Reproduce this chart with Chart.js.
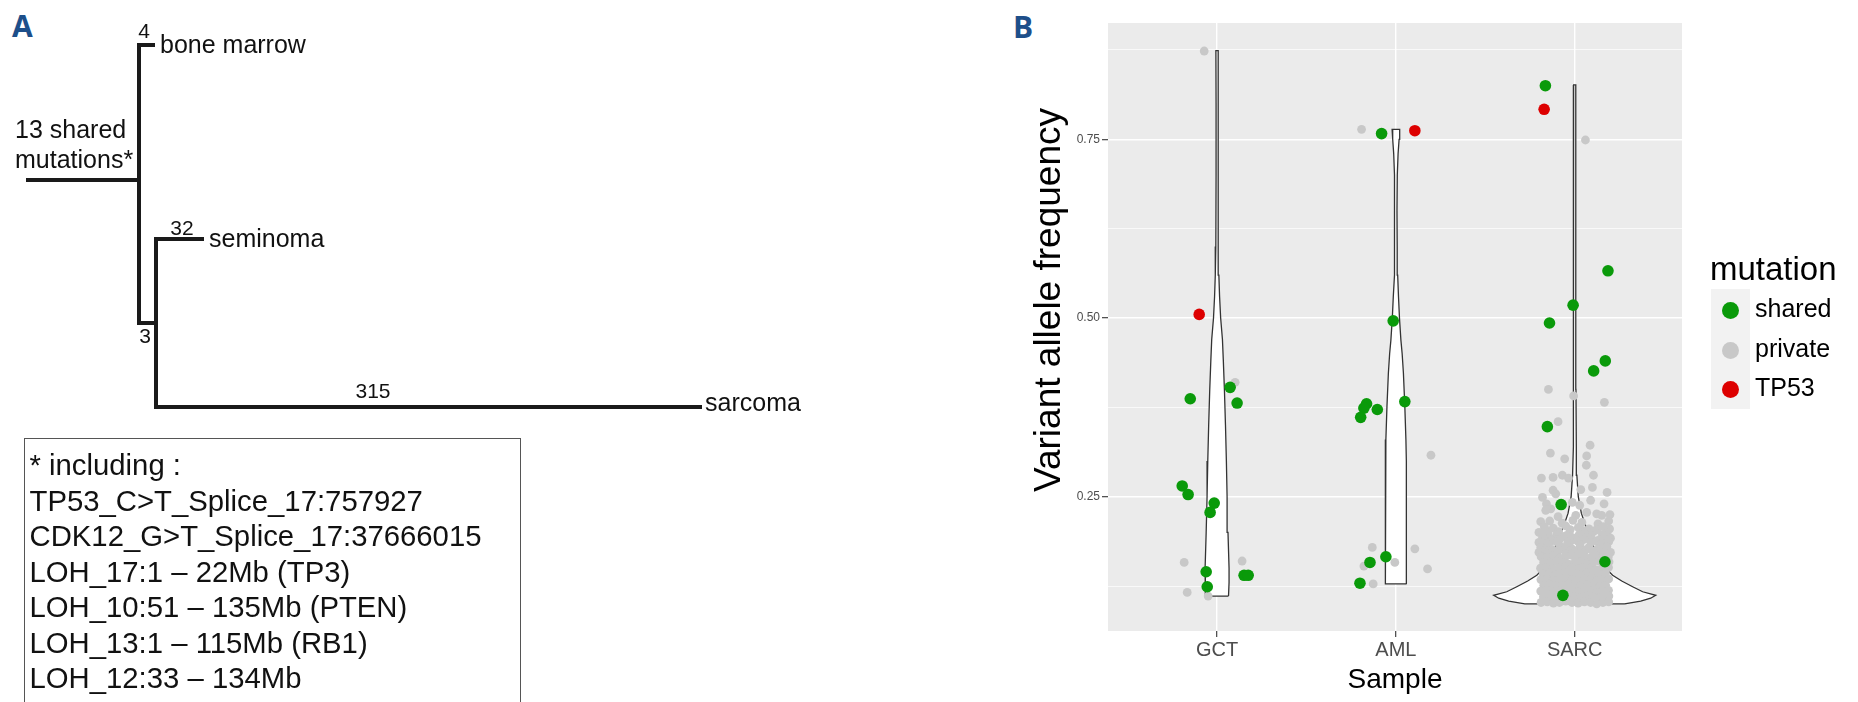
<!DOCTYPE html>
<html lang="en">
<head>
<meta charset="UTF-8">
<title>Clonal tree and variant allele frequency</title>
<script src="https://cdn.jsdelivr.net/npm/chart.js"></script>
<style>
  html, body { margin: 0; padding: 0; background: #fff; }
  body { width: 1858px; height: 702px; position: relative; overflow: hidden; font-family: "Liberation Sans", Arial, sans-serif; }
  .letter { position: absolute; font-family: "Open Sans", "Liberation Sans", sans-serif; font-weight: 700; font-size: 30px; line-height: 30px; color: #1d4f8a; }
  #treeChart { position: absolute; left: 0; top: 0; }
  #vafChart { position: absolute; left: 1000px; top: 0; }
  .note { position: absolute; left: 24px; top: 438px; width: 497px; height: 320px; box-sizing: border-box;
          border: 1.5px solid #555; padding: 8px 0 0 4.5px; font-size: 29.3px; line-height: 35.5px; color: #111; }
  .legend-title { position: absolute; left: 1710px; top: 252px; font-size: 33px; line-height: 33px; color: #000; }
  .legend-keys { position: absolute; left: 1711px; top: 289px; width: 39px; height: 120px; background: #f2f2f2; }
  .legend-dot { position: absolute; width: 17px; height: 17px; border-radius: 50%; }
  .legend-label { position: absolute; left: 1755px; font-size: 25px; line-height: 25px; color: #000; }
</style>
</head>
<body>
  <div class="letter" style="left:12px; top:11px;">A</div>
  <div class="letter" style="left:1013px; top:12px;">B</div>

  <canvas id="treeChart" width="860" height="440"></canvas>

  <div class="note">
    <div>* including :</div>
    <div>TP53_C&gt;T_Splice_17:757927</div>
    <div>CDK12_G&gt;T_Splice_17:37666015</div>
    <div>LOH_17:1 – 22Mb (TP3)</div>
    <div>LOH_10:51 – 135Mb (PTEN)</div>
    <div>LOH_13:1 – 115Mb (RB1)</div>
    <div>LOH_12:33 – 134Mb</div>
  </div>

  <canvas id="vafChart" width="858" height="702"></canvas>

  <div class="legend-title">mutation</div>
  <div class="legend-keys"></div>
  <div id="legendItems"></div>

<script>
  Chart.defaults.font.family = '"Liberation Sans", Arial, sans-serif';

  // ---- panel A: tree (layout units of the tree canvas) ----
  const nodeNames = ['root', 'split', 'bone marrow', 'inner', 'seminoma', 'sarcoma'];
  const nodeX = [26, 139, 155, 156, 204, 702];
  const nodeY = [180, 180, 45, 323, 239, 407];
  const nodeParent = [-1, 0, 1, 1, 3, 3];

  const treeLabels = [
    { text: '13 shared', x: 15, y: 138, size: 25, align: 'left' },
    { text: 'mutations*', x: 15, y: 168, size: 25, align: 'left' },
    { text: '4', x: 144, y: 38, size: 21, align: 'center' },
    { text: 'bone marrow', x: 160, y: 53, size: 25, align: 'left' },
    { text: '32', x: 182, y: 235, size: 21, align: 'center' },
    { text: 'seminoma', x: 209, y: 247, size: 25, align: 'left' },
    { text: '3', x: 145, y: 343, size: 21, align: 'center' },
    { text: '315', x: 373, y: 398, size: 21, align: 'center' },
    { text: 'sarcoma', x: 705, y: 411, size: 25, align: 'left' }
  ];

  // elbow path from parent to child
  const treeEdges = [];
  nodeParent.forEach((p, i) => {
    if (p < 0) return;
    const pts = [
      { x: nodeX[p], y: nodeY[p] },
      { x: nodeX[p], y: nodeY[i] },
      { x: nodeX[i], y: nodeY[i] }
    ].filter((pt, k, arr) => k === 0 || pt.x !== arr[k - 1].x || pt.y !== arr[k - 1].y);
    treeEdges.push({
      type: 'line',
      label: nodeNames[i],
      data: pts,
      borderColor: '#1a1a1a',
      borderWidth: 4,
      borderCapStyle: 'butt',
      borderJoinStyle: 'miter',
      pointRadius: 0,
      tension: 0,
      fill: false
    });
  });

  const treeText = {
    id: 'treeText',
    afterDatasetsDraw(chart) {
      const { ctx, scales: { x, y } } = chart;
      ctx.save();
      ctx.fillStyle = '#111';
      ctx.textBaseline = 'alphabetic';
      treeLabels.forEach(l => {
        ctx.font = l.size + 'px "Liberation Sans", Arial, sans-serif';
        ctx.textAlign = l.align;
        ctx.fillText(l.text, x.getPixelForValue(l.x), y.getPixelForValue(l.y));
      });
      ctx.restore();
    }
  };

  new Chart(document.getElementById('treeChart'), {
    type: 'scatter',
    data: { datasets: treeEdges },
    options: {
      responsive: false,
      animation: false,
      events: [],
      layout: { padding: 0 },
      plugins: { legend: { display: false }, tooltip: { enabled: false } },
      scales: {
        x: { type: 'linear', min: 0, max: 860, display: false },
        y: { type: 'linear', min: 0, max: 440, reverse: true, display: false }
      }
    },
    plugins: [treeText]
  });

  // ---- panel B: violin + jitter ----
  const samples = ['GCT', 'AML', 'SARC'];
  const samplePos = [1, 2, 3];
  const vafGrid = [0.125, 0.25, 0.375, 0.5, 0.625, 0.75, 0.875];
  const vafTicks = [0.25, 0.5, 0.75];
  const mutationTypes = ['shared', 'private', 'TP53'];
  const mutationColors = ['#0a9a0a', '#c8c8c8', '#dd0000'];

  // violin outlines: VAF level and half width (x units)
  const gctViolinY = [0.111, 0.13, 0.15, 0.2, 0.25, 0.3, 0.35, 0.4, 0.44, 0.47, 0.5, 0.53, 0.56, 0.6, 0.7, 0.8, 0.874];
  const gctViolinW = [0.064, 0.067, 0.067, 0.061, 0.056, 0.052, 0.047, 0.041, 0.035, 0.030, 0.020, 0.014, 0.010, 0.007, 0.0056, 0.0056, 0.0067];
  const amlViolinY = [0.128, 0.15, 0.2, 0.25, 0.3, 0.33, 0.376, 0.423, 0.45, 0.469, 0.5, 0.53, 0.56, 0.6, 0.65, 0.7, 0.73, 0.75, 0.764];
  const amlViolinW = [0.060, 0.060, 0.059, 0.058, 0.057, 0.056, 0.050, 0.042, 0.035, 0.028, 0.020, 0.0145, 0.010, 0.0073, 0.0061, 0.0078, 0.0123, 0.0179, 0.0212];
  const sarcViolinY = [0.100, 0.104, 0.108, 0.112, 0.117, 0.124, 0.132, 0.140, 0.150, 0.165, 0.180, 0.199, 0.213, 0.227, 0.250, 0.280, 0.320, 0.400, 0.550, 0.826];
  const sarcViolinW = [0.279, 0.369, 0.425, 0.453, 0.380, 0.324, 0.263, 0.212, 0.173, 0.134, 0.106, 0.078, 0.056, 0.037, 0.020, 0.012, 0.009, 0.007, 0.006, 0.006];

  // jittered points [x position, VAF]
  const gctShared = [[0.850, 0.387], [1.073, 0.403], [1.112, 0.381], [0.805, 0.265], [0.838, 0.253], [0.984, 0.241],
    [0.961, 0.228], [0.939, 0.145], [1.151, 0.140], [1.174, 0.140], [0.945, 0.124]];
  const gctPrivate = [[0.928, 0.8735], [1.101, 0.410], [0.816, 0.158], [1.140, 0.160], [0.833, 0.116], [0.950, 0.111]];
  const gctTP53 = [[0.900, 0.505]];

  const amlShared = [[1.920, 0.758], [1.985, 0.496], [1.836, 0.380], [1.821, 0.374], [1.896, 0.372], [1.803, 0.361],
    [2.050, 0.383], [1.944, 0.166], [1.855, 0.158], [1.799, 0.129]];
  const amlPrivate = [[1.808, 0.764], [2.196, 0.308], [1.868, 0.179], [2.106, 0.177], [1.821, 0.153], [1.994, 0.158],
    [2.177, 0.149], [1.873, 0.128]];
  const amlTP53 = [[2.106, 0.762]];

  const sarcShared = [[2.836, 0.825], [3.186, 0.566], [2.991, 0.518], [2.859, 0.493], [3.171, 0.440], [3.106, 0.426],
    [2.847, 0.348], [2.924, 0.239], [3.169, 0.159], [2.934, 0.112]];
  const sarcTP53 = [[2.829, 0.792]];
  const sarcPrivate = [
    [3.060, 0.749], [2.853, 0.400], [2.994, 0.391], [3.166, 0.382], [2.907, 0.355], [3.086, 0.322], [2.864, 0.311],
    [3.067, 0.307], [2.944, 0.303], [3.065, 0.294], [2.814, 0.276], [2.879, 0.277], [2.931, 0.280], [2.965, 0.276],
    [3.105, 0.280], [3.099, 0.263], [3.034, 0.260], [2.879, 0.259], [2.894, 0.254], [3.181, 0.256], [2.820, 0.249],
    [2.842, 0.240], [3.164, 0.240], [3.089, 0.245], [3.028, 0.238], [2.987, 0.242], [2.866, 0.233], [2.838, 0.231],
    [3.123, 0.226], [3.151, 0.224], [3.197, 0.225], [3.067, 0.228], [2.907, 0.222], [3.006, 0.224],
    [2.81, 0.215], [2.86, 0.216], [2.93, 0.213], [2.99, 0.217], [3.04, 0.214], [3.13, 0.212], [3.19, 0.216],
    [2.835, 0.204], [2.975, 0.204], [3.045, 0.203], [3.125, 0.204], [3.195, 0.205],
    [2.83, 0.208], [2.88, 0.206], [2.95, 0.209], [3.02, 0.207], [3.08, 0.205], [3.16, 0.208],
    [2.80, 0.200], [2.85, 0.199], [2.91, 0.201], [2.97, 0.198], [3.05, 0.200], [3.11, 0.202], [3.18, 0.199],
    [2.845, 0.196], [2.90, 0.197], [2.955, 0.196], [3.025, 0.197], [3.09, 0.196], [3.155, 0.197],
    [2.82, 0.193], [2.88, 0.191], [2.94, 0.194], [3.00, 0.192], [3.07, 0.193], [3.14, 0.190], [3.20, 0.192],
    [2.83, 0.189], [2.87, 0.188], [2.915, 0.190], [2.98, 0.189], [3.015, 0.188], [3.05, 0.190], [3.12, 0.188], [3.17, 0.189],
    [2.80, 0.186], [2.84, 0.184], [2.90, 0.187], [2.96, 0.185], [3.03, 0.183], [3.09, 0.186], [3.15, 0.184], [3.19, 0.187],
    [2.81, 0.179], [2.86, 0.177], [2.92, 0.180], [2.98, 0.178], [3.02, 0.176], [3.08, 0.179], [3.13, 0.177], [3.18, 0.180],
    [2.835, 0.175], [2.875, 0.176], [2.905, 0.174], [2.94, 0.176], [2.975, 0.174], [3.035, 0.175], [3.065, 0.176],
    [3.10, 0.174], [3.145, 0.176], [3.175, 0.175],
    [2.80, 0.172], [2.84, 0.171], [2.89, 0.173], [2.95, 0.170], [3.00, 0.172], [3.05, 0.171], [3.11, 0.173], [3.16, 0.170], [3.20, 0.172],
    [2.812, 0.166], [2.846, 0.165], [2.879, 0.167], [2.915, 0.164], [2.948, 0.166], [2.983, 0.168], [3.016, 0.165],
    [3.052, 0.166], [3.085, 0.164], [3.119, 0.167], [3.154, 0.165], [3.188, 0.166],
    [2.826, 0.158], [2.861, 0.157], [2.897, 0.159], [2.931, 0.158], [2.964, 0.156], [3.001, 0.158], [3.034, 0.159],
    [3.068, 0.157], [3.102, 0.158], [3.137, 0.160], [3.171, 0.157], [3.192, 0.159],
    [2.809, 0.150], [2.843, 0.151], [2.878, 0.149], [2.913, 0.150], [2.946, 0.152], [2.982, 0.150], [3.017, 0.149],
    [3.050, 0.151], [3.087, 0.150], [3.121, 0.148], [3.153, 0.150], [3.189, 0.151],
    [2.824, 0.142], [2.859, 0.143], [2.894, 0.141], [2.928, 0.142], [2.963, 0.144], [2.998, 0.142], [3.033, 0.141],
    [3.066, 0.143], [3.104, 0.142], [3.138, 0.141], [3.172, 0.143],
    [2.811, 0.134], [2.845, 0.135], [2.880, 0.133], [2.914, 0.134], [2.949, 0.136], [2.984, 0.134], [3.019, 0.133],
    [3.053, 0.135], [3.088, 0.134], [3.122, 0.132], [3.156, 0.134], [3.190, 0.135],
    [2.827, 0.126], [2.862, 0.127], [2.896, 0.125], [2.931, 0.126], [2.966, 0.128], [3.000, 0.126], [3.035, 0.125],
    [3.070, 0.127], [3.105, 0.126], [3.139, 0.124], [3.173, 0.126],
    [2.810, 0.118], [2.844, 0.119], [2.879, 0.117], [2.913, 0.118], [2.948, 0.120], [2.983, 0.118], [3.017, 0.117],
    [3.052, 0.119], [3.086, 0.118], [3.121, 0.116], [3.155, 0.118], [3.189, 0.119],
    [2.825, 0.110], [2.860, 0.111], [2.894, 0.109], [2.929, 0.110], [2.964, 0.112], [2.998, 0.110], [3.033, 0.109],
    [3.068, 0.111], [3.102, 0.110], [3.137, 0.108], [3.171, 0.110], [3.191, 0.111],
    [2.812, 0.102], [2.846, 0.103], [2.881, 0.101], [2.915, 0.102], [2.950, 0.104], [2.985, 0.102], [3.019, 0.101],
    [3.054, 0.103], [3.089, 0.102], [3.123, 0.100], [3.158, 0.102], [3.190, 0.103]
  ];

  const toXY = arr => arr.map(([x, y]) => ({ x, y }));

  function violinOutline(center, ys, half) {
    const right = ys.map((y, i) => ({ x: center + half[i], y }));
    const left = ys.map((y, i) => ({ x: center - half[i], y })).reverse();
    return right.concat(left, [right[0]]);
  }

  const violinSets = [
    [samplePos[0], gctViolinY, gctViolinW],
    [samplePos[1], amlViolinY, amlViolinW],
    [samplePos[2], sarcViolinY, sarcViolinW]
  ].map(([c, ys, ws], i) => ({
    type: 'line',
    label: samples[i] + ' violin',
    data: violinOutline(c, ys, ws),
    borderColor: '#333',
    borderWidth: 1.3,
    backgroundColor: '#ffffff',
    fill: 'shape',
    pointRadius: 0,
    tension: 0,
    order: 10
  }));

  const pointSet = (label, data, color, r, order) => ({
    label, data: toXY(data), backgroundColor: color, borderWidth: 0, pointRadius: r, order
  });

  const isMajor = v => vafTicks.some(t => Math.abs(t - v) < 1e-9);

  const panelBackground = {
    id: 'panelBackground',
    beforeDraw(chart) {
      const { ctx, chartArea: a } = chart;
      ctx.save();
      ctx.fillStyle = '#ebebeb';
      ctx.fillRect(a.left, a.top, a.right - a.left, a.bottom - a.top);
      ctx.restore();
    }
  };

  const yTitle = {
    id: 'yTitle',
    afterDraw(chart) {
      const { ctx } = chart;
      ctx.save();
      ctx.translate(chart.scales.y.left + 60, 300);
      ctx.rotate(-Math.PI / 2);
      ctx.font = '37px "Liberation Sans", Arial, sans-serif';
      ctx.fillStyle = '#000';
      ctx.textAlign = 'center';
      ctx.textBaseline = 'alphabetic';
      ctx.fillText('Variant allele frequency', 0, 0);
      ctx.restore();
    }
  };

  new Chart(document.getElementById('vafChart'), {
    type: 'scatter',
    data: {
      datasets: [
        ...violinSets,
        pointSet('private', gctPrivate.concat(amlPrivate, sarcPrivate), mutationColors[1], 4.4, 5),
        pointSet('shared', gctShared.concat(amlShared, sarcShared), mutationColors[0], 5.8, 2),
        pointSet('TP53', gctTP53.concat(amlTP53, sarcTP53), mutationColors[2], 5.8, 1)
      ]
    },
    options: {
      responsive: false,
      animation: false,
      events: [],
      layout: { padding: { left: 0, right: 176, top: 23, bottom: 0 } },
      plugins: { legend: { display: false }, tooltip: { enabled: false } },
      scales: {
        x: {
          type: 'linear',
          min: 0.39,
          max: 3.6,
          afterBuildTicks: axis => { axis.ticks = samplePos.map(v => ({ value: v })); },
          afterFit: axis => { axis.height = 71; },
          border: { display: false },
          grid: { color: '#ffffff', lineWidth: 1.4, tickColor: '#333', tickLength: 6, tickWidth: 1.1 },
          ticks: {
            autoSkip: false,
            maxRotation: 0,
            padding: 1,
            color: '#4d4d4d',
            font: { size: 20 },
            callback: v => samples[samplePos.indexOf(v)]
          },
          title: { display: true, text: 'Sample', color: '#000', font: { size: 28 }, padding: { top: 0, bottom: 5 } }
        },
        y: {
          type: 'linear',
          min: 0.0621,
          max: 0.9127,
          afterBuildTicks: axis => { axis.ticks = vafGrid.map(v => ({ value: v })); },
          afterFit: axis => { axis.width = 108; },
          border: { display: false },
          grid: {
            color: '#ffffff',
            lineWidth: c => (c.tick && isMajor(c.tick.value)) ? 1.4 : 0.7,
            tickColor: c => (c.tick && isMajor(c.tick.value)) ? '#333' : 'rgba(0,0,0,0)',
            tickLength: 6,
            tickWidth: 1.1
          },
          ticks: {
            autoSkip: false,
            padding: 2,
            color: '#4d4d4d',
            font: { size: 12 },
            callback: v => isMajor(v) ? v.toFixed(2) : ''
          }
        }
      }
    },
    plugins: [panelBackground, yTitle]
  });

  // legend keys
  const legendItems = document.getElementById('legendItems');
  const legendRowY = [310, 350, 389];
  mutationTypes.forEach((name, i) => {
    const dot = document.createElement('div');
    dot.className = 'legend-dot';
    dot.style.left = (1730 - 8.5) + 'px';
    dot.style.top = (legendRowY[i] - 8.5) + 'px';
    dot.style.background = mutationColors[i];
    legendItems.appendChild(dot);
    const lab = document.createElement('div');
    lab.className = 'legend-label';
    lab.style.top = (legendRowY[i] - 14.5) + 'px';
    lab.textContent = name;
    legendItems.appendChild(lab);
  });
</script>
</body>
</html>
